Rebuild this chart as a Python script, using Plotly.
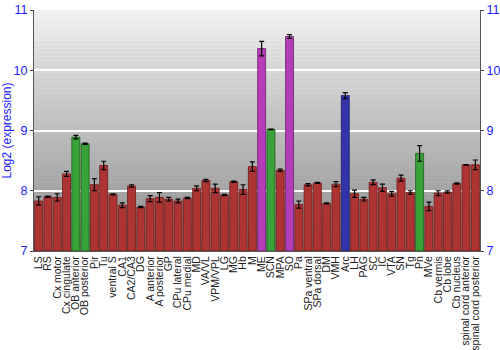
import plotly.graph_objects as go

regions = ["LS", "RS", "Cx motor", "Cx cingulate", "OB anterior", "OB posterior", "Pir", "Tu",
           "ventral S", "CA1", "CA2/CA3", "DG", "A anterior", "A posterior", "GP", "CPu lateral",
           "CPu medial", "MD", "VA/VL", "VPM/VPL", "LG", "MG", "Hb", "M", "ME", "SCN", "MPA", "SO",
           "Pa", "SPa ventral", "SPa dorsal", "DM", "VMH", "Arc", "LH", "PAG", "SC", "IC", "VTA",
           "SN", "Tg", "Pn", "MVe", "Cb vermis", "Cb lobe", "Cb nucleus", "spinal cord anterior",
           "spinal cord posterior"]
log2_expr = [7.83, 7.90, 7.89, 8.28, 8.89, 8.78, 8.10, 8.42,
             7.94, 7.76, 8.08, 7.73, 7.87, 7.89, 7.86, 7.83,
             7.88, 8.04, 8.17, 8.04, 7.93, 8.15, 8.02, 8.40, 10.36, 9.02, 8.34, 10.56,
             7.77, 8.10, 8.13, 7.79, 8.11, 9.58, 7.95, 7.86, 8.14, 8.05, 7.95,
             8.21, 7.97, 8.62, 7.74, 7.96, 7.98, 8.12, 8.43,
             8.43]
err = [0.07, 0.01, 0.06, 0.04, 0.03, 0.01, 0.10, 0.07,
       0.01, 0.04, 0.02, 0.01, 0.05, 0.08, 0.03, 0.03,
       0.01, 0.04, 0.02, 0.07, 0.01, 0.01, 0.08, 0.08, 0.12, 0.005, 0.02, 0.03,
       0.06, 0.02, 0.01, 0.01, 0.04, 0.05, 0.06, 0.03, 0.04, 0.06, 0.04,
       0.05, 0.03, 0.13, 0.07, 0.04, 0.02, 0.01, 0.005,
       0.08]
highlight = {"OB anterior": "green", "OB posterior": "green", "SCN": "green", "Pn": "green",
             "ME": "magenta", "SO": "magenta", "Arc": "blue"}

palette = {"red": ("#ae3434", "#6e1a1a"), "green": ("#39a339", "#1d5e1d"),
           "magenta": ("#b43cb8", "#6e1e70"), "blue": ("#3434aa", "#1a1a66")}
fill = [palette[highlight.get(r, "red")][0] for r in regions]
edge = [palette[highlight.get(r, "red")][1] for r in regions]

fig = go.Figure()
fig.add_trace(go.Bar(
    x=regions, y=[v - 7 for v in log2_expr], base=7,
    marker=dict(color=fill, line=dict(color=edge, width=0.8)),
    error_y=dict(type="data", array=err, color="black", thickness=1.2, width=2.5),
    hoverinfo="x+y",
))

# gradient background as horizontal bands
shapes = []
n = 60
y0, y1 = 7.0, 11.0
for i in range(n):
    a = y0 + (y1 - y0) * i / n
    b = y0 + (y1 - y0) * (i + 1) / n
    t = (i + 0.5) / n
    g = int(0x8a + (0xf2 - 0x8a) * t)
    shapes.append(dict(type="rect", xref="paper", yref="y", x0=0, x1=1, y0=a, y1=b,
                       fillcolor=f"rgb({g},{g},{g})", line=dict(width=0), layer="below"))

fig.update_layout(
    width=500, height=350,
    margin=dict(l=34, r=20, t=10, b=99),
    paper_bgcolor="white", plot_bgcolor="#bbbbbb",
    bargap=0.14,
    showlegend=False,
    shapes=shapes,
    font=dict(family="Liberation Sans, Arial", size=12),
    xaxis=dict(tickangle=-90, tickfont=dict(size=10.5, color="#222222"), showgrid=False,
               tickmode="linear", dtick=1, automargin=False,
               showline=True, linecolor="#555555", ticks="", range=[-0.5, len(regions) - 0.5]),
    yaxis=dict(range=[7, 11], tickvals=[7, 8, 9, 10, 11], tickfont=dict(color="#1a1aff", size=12.5),
               showgrid=True, gridcolor="white", gridwidth=1.5, zeroline=False, automargin=False,
               ticks="outside", ticklen=3, tickcolor="#444444",
               showline=True, linecolor="#555555",
               title=dict(text="Log2 (expression)", font=dict(color="#1a1aff", size=12), standoff=4)),
    yaxis2=dict(range=[7, 11], tickvals=[7, 8, 9, 10, 11], tickfont=dict(color="#1a1aff", size=12.5),
                overlaying="y", side="right", showgrid=False, ticks="outside", ticklen=3,
                automargin=False,
                tickcolor="#444444", showline=True, linecolor="#555555", zeroline=False),
)
fig.add_trace(go.Scatter(x=[regions[0]], y=[7], yaxis="y2", mode="markers",
                         marker=dict(opacity=0), hoverinfo="skip"))
fig.write_html("out.html")
